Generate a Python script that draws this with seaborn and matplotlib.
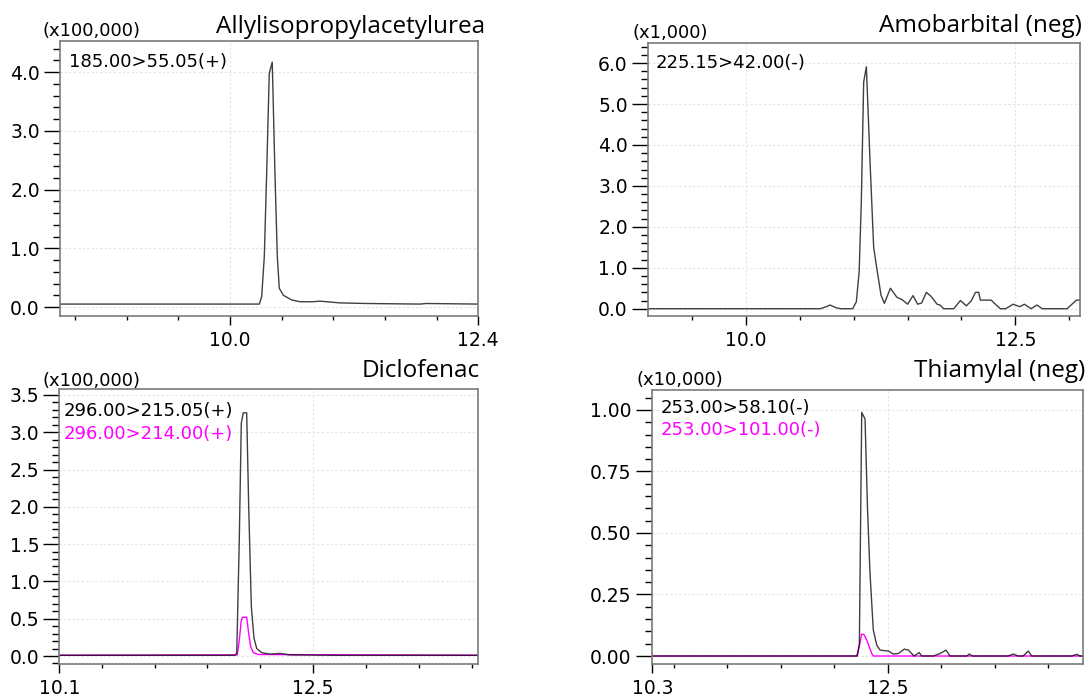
import matplotlib
matplotlib.use("Agg")
import matplotlib.pyplot as plt
import seaborn as sns
import pandas as pd
from matplotlib.ticker import MultipleLocator, FormatStrFormatter

# ---------------- data ----------------
# Allylisopropylacetylurea, 185.00>55.05(+), intensity x100,000
allyl_time = [8.355, 10.284, 10.307, 10.332, 10.355, 10.380, 10.409, 10.435, 10.458,
              10.477, 10.516, 10.597, 10.677, 10.803, 10.871, 11.065, 11.32, 11.84, 11.90, 12.4]
allyl_int = [0.05, 0.05, 0.18, 0.86, 2.28, 3.98, 4.17, 2.28, 0.86,
             0.32, 0.20, 0.12, 0.09, 0.09, 0.10, 0.07, 0.06, 0.05, 0.06, 0.05]

# Amobarbital (neg), 225.15>42.00(-), intensity x1,000
amob_time = [9.09, 10.69, 10.745, 10.78, 10.83, 10.875, 10.99, 11.024, 11.05, 11.07, 11.092,
             11.117, 11.154, 11.185, 11.216, 11.253, 11.284, 11.34, 11.40, 11.45, 11.50,
             11.55, 11.593, 11.63, 11.674, 11.718, 11.773, 11.80, 11.835, 11.928, 11.99,
             12.045, 12.09, 12.13, 12.16, 12.175, 12.275, 12.315, 12.36, 12.41, 12.48,
             12.54, 12.584, 12.646, 12.70, 12.75, 12.98, 13.067, 13.10]
amob_int = [0.0, 0.0, 0.05, 0.09, 0.03, 0.0, 0.0, 0.17, 0.9, 2.6, 5.54,
            5.91, 3.4, 1.49, 0.95, 0.33, 0.13, 0.5, 0.28, 0.22, 0.11,
            0.32, 0.11, 0.14, 0.40, 0.30, 0.11, 0.09, 0.0, 0.0, 0.20,
            0.07, 0.19, 0.40, 0.40, 0.21, 0.21, 0.11, 0.0, 0.0, 0.11,
            0.05, 0.11, 0.0, 0.09, 0.0, 0.0, 0.21, 0.21]

# Diclofenac, intensity x100,000
diclo_time_a = [10.1, 11.761, 11.777, 11.801, 11.820, 11.839, 11.871, 11.890, 11.915,
                11.940, 11.966, 12.013, 12.091, 12.186, 12.280, 12.690, 14.06]
diclo_int_a = [0.01, 0.01, 0.04, 1.55, 3.12, 3.26, 3.26, 2.0, 0.66,
               0.24, 0.10, 0.045, 0.025, 0.035, 0.015, 0.01, 0.01]
diclo_time_b = [10.1, 11.782, 11.801, 11.820, 11.833, 11.871, 11.890, 11.909, 11.934, 11.981, 14.06]
diclo_int_b = [0.01, 0.015, 0.21, 0.48, 0.52, 0.52, 0.30, 0.125, 0.045, 0.02, 0.01]

# Thiamylal (neg), intensity x10,000
thia_time_a = [10.294, 12.216, 12.235, 12.257, 12.288, 12.311, 12.334, 12.365, 12.397, 12.428,
               12.506, 12.552, 12.599, 12.655, 12.693, 12.746, 12.795, 12.818, 12.926, 12.989,
               13.045, 13.082, 13.238, 13.263, 13.291, 13.624, 13.674, 13.718, 13.765, 13.814,
               13.846, 14.222, 14.266, 14.297, 14.328]
thia_int_a = [0, 0, 0.05, 0.99, 0.963, 0.6, 0.34, 0.106, 0.045, 0.024,
              0.02, 0.008, 0.01, 0.028, 0.024, 0, 0.014, 0, 0, 0.01,
              0.024, 0, 0, 0.008, 0, 0, 0.008, 0, 0, 0.02,
              0, 0, 0.007, 0, 0]
thia_time_b = [10.294, 12.210, 12.235, 12.257, 12.278, 12.304, 12.350, 12.365, 14.328]
thia_int_b = [0, 0, 0.04, 0.089, 0.087, 0.065, 0.011, 0, 0]

titles = ["Allylisopropylacetylurea", "Amobarbital (neg)", "Diclofenac", "Thiamylal (neg)"]
scales = ["(x100,000)", "(x1,000)", "(x100,000)", "(x10,000)"]
channels = [["185.00>55.05(+)"], ["225.15>42.00(-)"],
            ["296.00>215.05(+)", "296.00>214.00(+)"],
            ["253.00>58.10(-)", "253.00>101.00(-)"]]
x_major = [[10.0, 12.4], [10.0, 12.5], [10.1, 12.5], [10.3, 12.5]]

# ---------------- style ----------------
sns.set_style("white")
plt.rcParams["font.family"] = ["DejaVu Sans"]
W, H = 1088, 695
fig = plt.figure(figsize=(W / 100, H / 100), dpi=100)

def box(l, t, r, b):
    return [l / W, 1 - b / H, (r - l) / W, (b - t) / H]

def fxy(x, y):
    return x / W, 1 - y / H

BLACK = "#000000"
MAG = "#ff00ff"

panels = [
    dict(box=box(60, 41, 478, 316), xlim=(8.355, 12.4), ylim=(-0.153, 4.53),
         xminor=[8.5, 9.0, 9.5, 10.5, 11.0, 11.5, 12.0], ymaj=1.0, ymin=0.2, fmt="%.1f",
         series=[(allyl_time, allyl_int, BLACK)],
         title_xy=(485, 33), scale_xy=(43, 31), chan_xy=[(69, 62)]),
    dict(box=box(648, 43, 1080, 316), xlim=(9.09, 13.10), ylim=(-0.178, 6.49),
         xminor=[9.5, 10.5, 11.0, 11.5, 12.0, 13.0], ymaj=1.0, ymin=0.2, fmt="%.1f",
         series=[(amob_time, amob_int, BLACK)],
         title_xy=(1082, 32), scale_xy=(632, 33), chan_xy=[(656, 63)]),
    dict(box=box(59.3, 389.3, 478.3, 664), xlim=(10.1, 14.06), ylim=(-0.107, 3.575),
         xminor=[10.5, 11.0, 11.5, 12.0, 13.0, 13.5, 14.0], ymaj=0.5, ymin=0.1, fmt="%.1f",
         series=[(diclo_time_b, diclo_int_b, MAG), (diclo_time_a, diclo_int_a, BLACK)],
         title_xy=(480, 377), scale_xy=(43, 381), chan_xy=[(64, 411), (64, 434)]),
    dict(box=box(651.7, 390, 1083.3, 664), xlim=(10.294, 14.328), ylim=(-0.0325, 1.081),
         xminor=[10.5, 11.0, 11.5, 12.0, 13.0, 13.5, 14.0], ymaj=0.25, ymin=0.05, fmt="%.2f",
         series=[(thia_time_b, thia_int_b, MAG), (thia_time_a, thia_int_a, BLACK)],
         title_xy=(1085, 377), scale_xy=(637, 380), chan_xy=[(661, 408), (661, 430)]),
]

for i, p in enumerate(panels):
    ax = fig.add_axes(p["box"])
    for (t, v, c) in p["series"]:
        df = pd.DataFrame({"t": t, "v": v})
        sns.lineplot(data=df, x="t", y="v", ax=ax, color=c, lw=1.0,
                     alpha=(0.75 if c == BLACK else 1.0),
                     estimator=None, sort=False, legend=False)
    ax.set_xlim(*p["xlim"])
    ax.set_ylim(*p["ylim"])
    ax.set_xlabel("")
    ax.set_ylabel("")
    ax.set_xticks(x_major[i])
    ax.set_xticklabels([f"{v:.1f}" for v in x_major[i]])
    ax.set_xticks(p["xminor"], minor=True)
    ax.yaxis.set_major_locator(MultipleLocator(p["ymaj"]))
    ax.yaxis.set_minor_locator(MultipleLocator(p["ymin"]))
    ax.yaxis.set_major_formatter(FormatStrFormatter(p["fmt"]))
    ax.grid(True, which="major", color="#e3e3e3", linestyle=(0, (2, 2)), linewidth=0.8)
    ax.set_axisbelow(True)
    for s in ax.spines.values():
        s.set_color("#7a7a7a")
        s.set_linewidth(1.2)
        s.set_visible(True)
    ax.tick_params(axis="both", which="both", direction="out", colors="black",
                   width=1.0, labelsize=13.5, left=True, bottom=True)
    ax.tick_params(axis="y", which="major", length=11.5, pad=3)
    ax.tick_params(axis="y", which="minor", length=5)
    ax.tick_params(axis="x", which="major", length=6.5, pad=4)
    ax.tick_params(axis="x", which="minor", length=3)

    tx, ty = fxy(*p["title_xy"])
    fig.text(tx, ty, titles[i], ha="right", va="baseline", fontsize=17.5,
             family=["Open Sans", "DejaVu Sans"], color="black")
    sx, sy = fxy(*p["scale_xy"])
    fig.text(sx, sy, scales[i], ha="left", va="center", fontsize=13, color="black")
    for j, lab in enumerate(channels[i]):
        cx, cy = fxy(*p["chan_xy"][j])
        fig.text(cx, cy, lab, ha="left", va="center", fontsize=13,
                 color=(BLACK if j == 0 else MAG))

fig.savefig("out.png", dpi=100)
